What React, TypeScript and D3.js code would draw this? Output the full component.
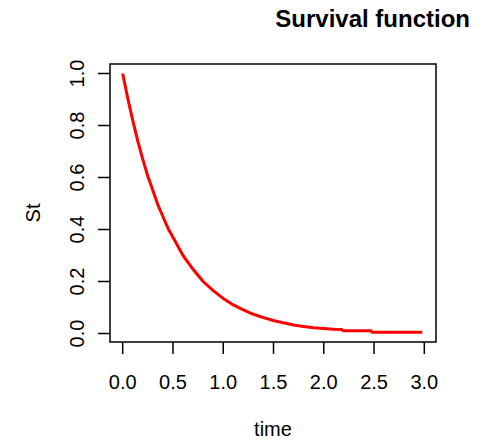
import React from "react";
import * as d3 from "d3";

// Survival curve S(t)
const times = [0, 0.05, 0.1, 0.15, 0.2, 0.25, 0.3, 0.35, 0.4, 0.45, 0.5, 0.6, 0.7, 0.8, 0.9, 1.0, 1.1, 1.2, 1.3, 1.4, 1.5, 1.6, 1.7, 1.8, 1.9, 2.0, 2.1, 2.18, 2.19, 2.47, 2.48, 2.98];
const survival = [1.0, 0.905, 0.82, 0.74, 0.67, 0.605, 0.55, 0.495, 0.45, 0.405, 0.37, 0.30, 0.247, 0.20, 0.165, 0.135, 0.11, 0.091, 0.074, 0.061, 0.05, 0.041, 0.033, 0.027, 0.022, 0.019, 0.016, 0.015, 0.011, 0.011, 0.005, 0.005];
const xTicks = [0, 0.5, 1, 1.5, 2, 2.5, 3];
const yTicks = [0, 0.2, 0.4, 0.6, 0.8, 1.0];
const titleText = "Survival function";
const xLabel = "time";
const yLabel = "St";

export default function App() {
  const W = 485, H = 441;
  const box = { left: 110, right: 436, top: 64, bottom: 342 };
  const x = d3.scaleLinear().domain([0, 3]).range([122.7, 424.3]);
  const y = d3.scaleLinear().domain([0, 1]).range([333.5, 73.5]);
  const pts = times.map((t, i) => [t, survival[i]] as [number, number]);
  const line = d3.line<[number, number]>().x(d => x(d[0])).y(d => y(d[1]));
  const font = "'Liberation Sans', Arial, Helvetica, sans-serif";
  const tl = 12;
  return (
    <svg width={W} height={H} style={{ position: "absolute", left: 0, top: 0, background: "#fff" }} fontFamily={font}>
      <rect x={0} y={0} width={W} height={H} fill="#fff" />
      <text x={470} y={27} textAnchor="end" fontSize={24} fontWeight="bold" fill="#000">{titleText}</text>
      <path d={line(pts) || ""} fill="none" stroke="#ff0000" strokeWidth={3} strokeLinejoin="round" />
      <rect x={box.left} y={box.top} width={box.right - box.left} height={box.bottom - box.top} fill="none" stroke="#000" strokeWidth={1.5} />
      {xTicks.map(t => (
        <g key={"x" + t}>
          <line x1={x(t)} x2={x(t)} y1={box.bottom} y2={box.bottom + tl} stroke="#000" strokeWidth={1.5} />
          <text x={x(t)} y={389} textAnchor="middle" fontSize={20} fill="#000">{t.toFixed(1)}</text>
        </g>
      ))}
      {yTicks.map(t => (
        <g key={"y" + t}>
          <line x1={box.left - tl} x2={box.left} y1={y(t)} y2={y(t)} stroke="#000" strokeWidth={1.5} />
          <text transform={`translate(84,${y(t)}) rotate(-90)`} textAnchor="middle" fontSize={20} fill="#000">{t.toFixed(1)}</text>
        </g>
      ))}
      <text x={(box.left + box.right) / 2} y={436} textAnchor="middle" fontSize={20} fill="#000">{xLabel}</text>
      <text transform={`translate(40,${(box.top + box.bottom) / 2 + 10}) rotate(-90)`} textAnchor="middle" fontSize={20} fill="#000">{yLabel}</text>
    </svg>
  );
}
